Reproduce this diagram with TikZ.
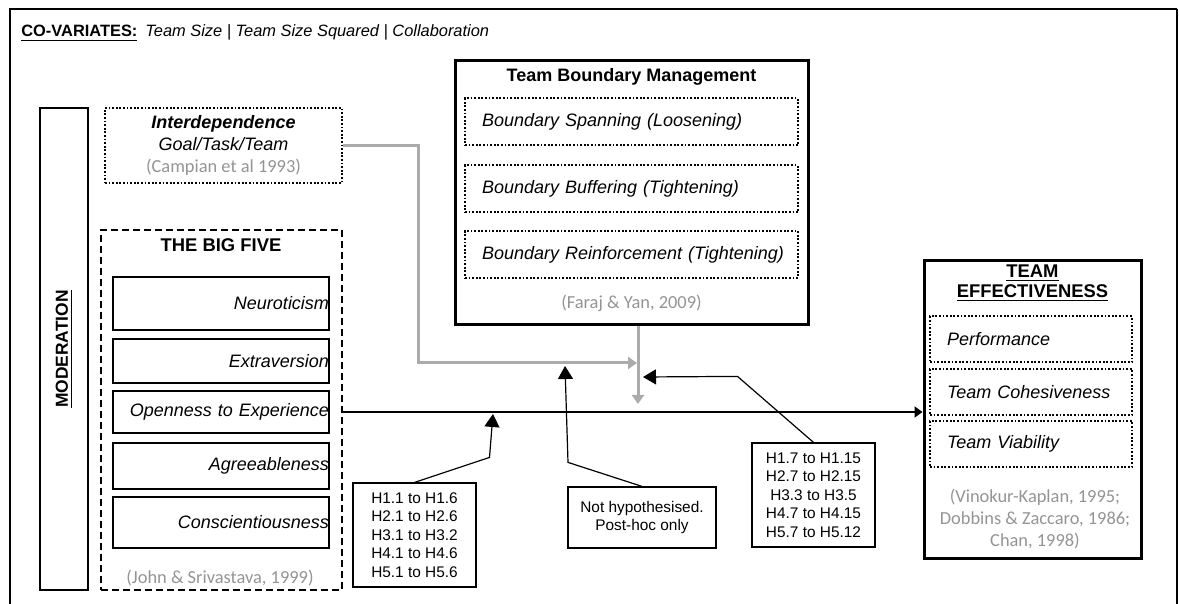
\documentclass[tikz,border=0pt]{standalone}
\usepackage{fontspec}
\setmainfont{Liberation Sans}
\newfontfamily\citefont{Carlito}
\usetikzlibrary{arrows.meta}

\begin{document}
\begin{tikzpicture}[x=.5pt,y=-.5pt,
  solidbox/.style={draw,line width=1.3pt,inner sep=0pt},
  dotbox/.style={draw,line width=1pt,dash pattern=on .9pt off .9pt,inner sep=0pt},
  trait/.style={solidbox,minimum width=108pt,text width=108pt,align=right,font=\fontsize{9}{11}\selectfont\itshape},
  tbmitem/.style={dotbox,minimum height=23.5pt,text width=149.5pt,inner xsep=8.5pt,align=left,font=\fontsize{9}{11}\selectfont\itshape},
  outitem/.style={dotbox,minimum height=23pt,text width=84pt,inner xsep=8.5pt,align=left,font=\fontsize{9}{11}\selectfont\itshape},
  hypbox/.style={draw,line width=.6pt,align=center,font=\fontsize{7.7}{9.3}\selectfont},
  cite/.style={text=black!42,font=\citefont\fontsize{9.2}{11}\selectfont,align=center},
  grayline/.style={draw=black!33,line width=1.5pt,-{Triangle[length=4.5pt,width=6pt]}},
  mainarrow/.style={line width=1.4pt,-{Triangle[length=4pt,width=5.5pt]}},
  callout/.style={line width=.6pt,-{Triangle[length=6.5pt,width=7.5pt]}}]
  \useasboundingbox (0,0) rectangle (1179,604);
  % frame and co-variates
  \draw[line width=1.1pt] (10,604) -- (10,9) -- (1177,9);
  \draw[line width=.6pt] (1177,9) -- (1177,604);
  \node[anchor=base west,inner sep=0pt,font=\fontsize{8.2}{10}\selectfont] (covar) at (21,37)
    {\underline{\textbf{CO-VARIATES:}}\hspace{4pt}\textit{Team Size \textbar{} Team Size Squared \textbar{} Collaboration}};
  % moderators
  \node[solidbox,line width=1.2pt,rotate=90,minimum width=241pt,minimum height=24pt,font=\fontsize{8.7}{10}\selectfont\bfseries] (moder) at (64,349) {\underline{MODERATION}};
  \node[dotbox,minimum width=118.5pt,minimum height=37.5pt,align=center,font=\fontsize{9}{11}\selectfont\itshape] (inter) at (223.5,145.5)
    {\textbf{Interdependence}\\Goal/Task/Team\\{\citefont\upshape\fontsize{9.2}{11}\selectfont\color{black!42}(Campian et al 1993)}};
  % big five
  \node[draw,line width=1.2pt,dash pattern=on 3.5pt off 2pt,minimum width=120.5pt,minimum height=180pt] (bigfive) at (221.5,410) {};
  \node[font=\fontsize{9.2}{11}\selectfont\bfseries] (bigtitle) at (221,245) {THE BIG FIVE};
  \node[trait,minimum height=26.5pt] (neuro) at (221,303.5) {Neuroticism};
  \node[trait,minimum height=22pt] (extra) at (221,361) {Extraversion};
  \node[trait,minimum height=21pt] (open) at (221,412) {Openness to Experience};
  \node[trait,minimum height=23pt] (agree) at (221,466) {Agreeableness};
  \node[trait,minimum height=25.5pt] (consc) at (221,522.5) {Conscientiousness};
  \node[cite] (bigcite) at (220,578) {(John \& Srivastava, 1999)};
  % boundary management
  \node[solidbox,line width=1.5pt,minimum width=176.5pt,minimum height=132pt] (tbm) at (631.5,193) {};
  \node[font=\fontsize{9}{11}\selectfont\bfseries] (tbmtitle) at (631.5,77) {Team Boundary Management};
  \node[tbmitem] (span) at (631.5,122) {Boundary Spanning (Loosening)};
  \node[tbmitem] (buffer) at (631.5,189) {Boundary Buffering (Tightening)};
  \node[tbmitem] (reinf) at (631.5,254.5) {\mbox{Boundary Reinforcement (Tightening)}};
  \node[cite] (tbmcite) at (631.5,303) {(Faraj \& Yan, 2009)};
  % outcome
  \node[solidbox,line width=1.5pt,minimum width=108.5pt,minimum height=148.5pt] (teff) at (1032.5,409.5) {};
  \node[font=\fontsize{9.2}{10}\selectfont\bfseries,align=center] (tefftitle) at (1032.5,283) {\underline{TEAM}\\\underline{EFFECTIVENESS}};
  \node[outitem] (perf) at (1031,339.5) {Performance};
  \node[outitem] (cohes) at (1031,392) {Team Cohesiveness};
  \node[outitem] (viab) at (1031,444) {Team Viability};
  \node[cite] (teffcite) at (1035,519) {(Vinokur-Kaplan, 1995;\\Dobbins \& Zaccaro, 1986;\\Chan, 1998)};
  % hypotheses
  \node[hypbox,minimum width=61.5pt,minimum height=52pt] (hypA) at (414.5,535)
    {H1.1 to H1.6\\H2.1 to H2.6\\H3.1 to H3.2\\H4.1 to H4.6\\H5.1 to H5.6};
  \node[hypbox,minimum width=74pt,minimum height=30.5pt] (posthoc) at (642,517.5)
    {Not hypothesised.\\Post-hoc only};
  \node[hypbox,minimum width=61.5pt,minimum height=52pt] (hypB) at (813.5,495)
    {H1.7 to H1.15\\H2.7 to H2.15\\H3.3 to H3.5\\H4.7 to H4.15\\H5.7 to H5.12};
  % connectors
  \coordinate (gbend) at (418,363);
  \coordinate (gjoin) at (637,363);
  \coordinate (gdown) at (638,404);
  \coordinate (tipA) at (493,414);
  \coordinate (tipB) at (565,366);
  \coordinate (tipC) at (643,377);
  \draw[grayline] (inter.east) -| (gbend) -- (gjoin);
  \draw[grayline] (tbm.south -| gdown) -- (gdown);
  \draw[mainarrow] (bigfive.east |- open) -- (teff.west |- open);
  \draw[callout] (hypA.north) -- ++(75,-25) -- (tipA);
  \draw[callout] (posthoc.north) -- ++(-74,-24) -- (tipB);
  \draw[callout] (hypB.north) -- ++(-76,-66) -- (tipC);
\end{tikzpicture}
\end{document}
